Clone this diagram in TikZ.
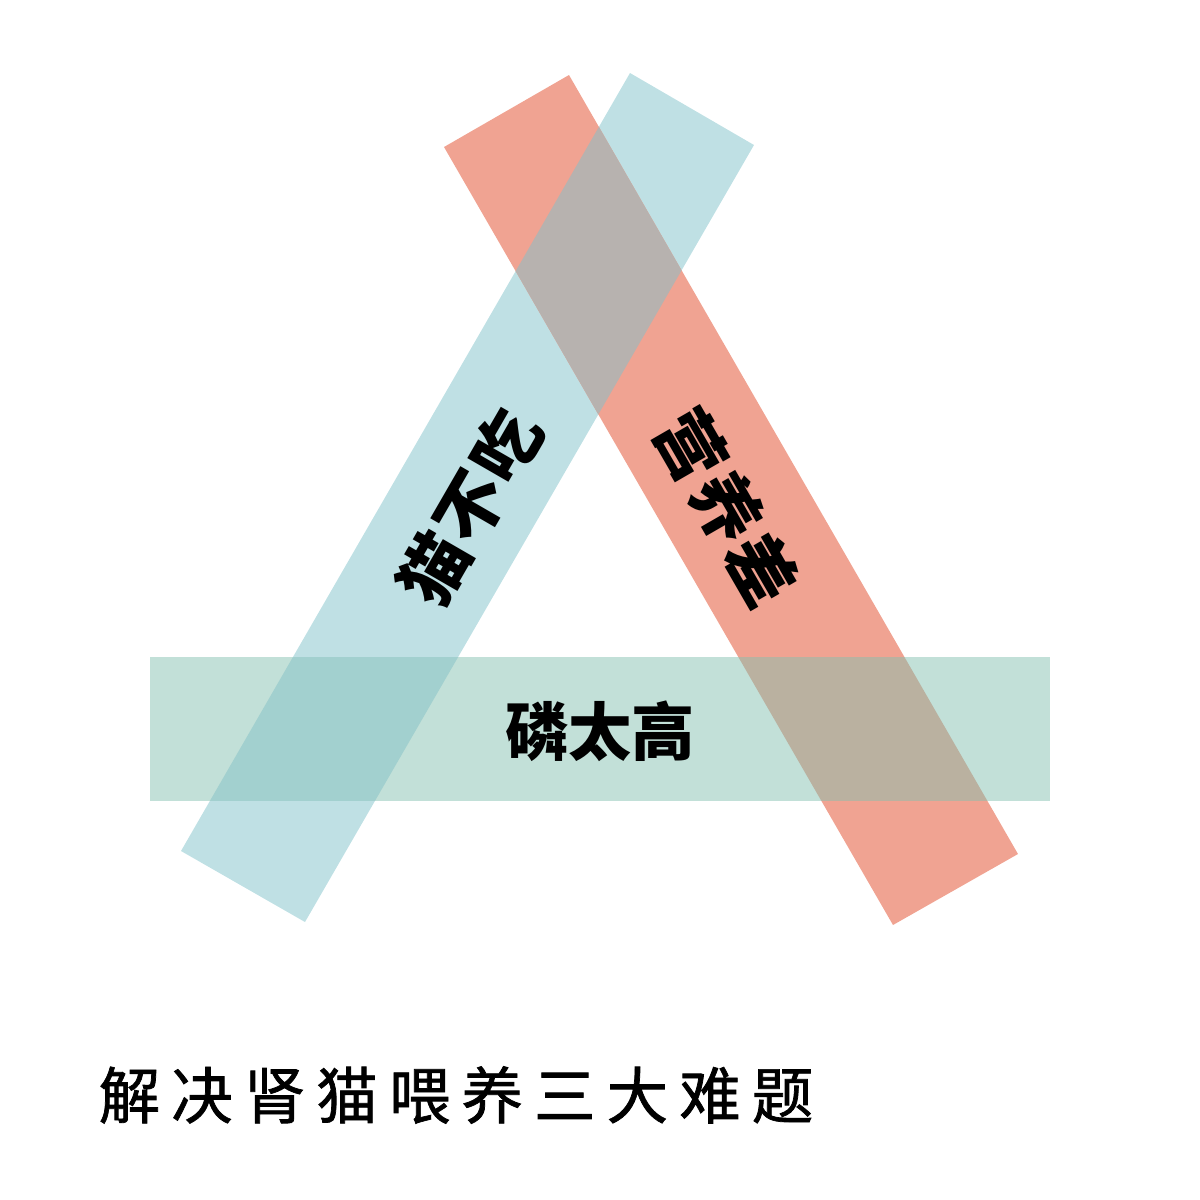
\documentclass[tikz,border=0pt]{standalone}
\usepackage{fontspec}
\newfontfamily\cjk{Noto Sans CJK SC}
\newfontfamily\cjktitle[LetterSpace=18,FakeBold=1.2]{Noto Sans CJK SC}
\newfontfamily\cjkwide[LetterSpace=4]{Noto Sans CJK SC}
\usepackage{tikz}
\usetikzlibrary{positioning}
\definecolor{barblue}{HTML}{BFE0E4}
\definecolor{barred}{HTML}{F0A392}
\definecolor{bargreen}{HTML}{C2E0D8}
\definecolor{bluegreen}{HTML}{A2D0CF}
\definecolor{redblue}{HTML}{B7B2AF}
\definecolor{redgreen}{HTML}{BAB1A0}
\tikzstyle{bluebar}=[fill=barblue]
\tikzstyle{redbar}=[fill=barred]
\tikzstyle{greenbar}=[fill=bargreen]
\tikzstyle{barlabel}=[inner sep=0pt,font=\cjk\bfseries\fontsize{18pt}{22pt}\selectfont]
\tikzstyle{slantlabel}=[inner sep=0pt,font=\cjkwide\bfseries\fontsize{19.5pt}{23pt}\selectfont]
\tikzstyle{caption}=[inner sep=0pt,anchor=west,font=\cjktitle\fontsize{17.5pt}{21pt}\selectfont]

\begin{document}
\begin{tikzpicture}
  \useasboundingbox (0,0) rectangle (12,-12);
  % corners of the three bars
  \coordinate (b1) at (6.30,-0.73);
  \coordinate (b2) at (7.54,-1.45);
  \coordinate (b3) at (3.05,-9.22);
  \coordinate (b4) at (1.81,-8.51);
  \coordinate (r1) at (5.69,-0.75);
  \coordinate (r2) at (10.18,-8.54);
  \coordinate (r3) at (8.93,-9.25);
  \coordinate (r4) at (4.44,-1.47);
  \coordinate (g1) at (1.50,-6.57);
  \coordinate (g2) at (10.50,-8.01);

  \fill[bluebar] (b1) -- (b2) -- (b3) -- (b4) -- cycle;
  \fill[redbar] (r1) -- (r2) -- (r3) -- (r4) -- cycle;
  \fill[greenbar] (g1) rectangle (g2);
  % overlaps
  \begin{scope}
    \clip (b1) -- (b2) -- (b3) -- (b4) -- cycle;
    \fill[bluegreen] (g1) rectangle (g2);
    \fill[redblue] (r1) -- (r2) -- (r3) -- (r4) -- cycle;
  \end{scope}
  \begin{scope}
    \clip (r1) -- (r2) -- (r3) -- (r4) -- cycle;
    \fill[redgreen] (g1) rectangle (g2);
  \end{scope}

  \node[slantlabel,rotate=60] (maobuchi) at (4.70,-5.07) {猫不吃};
  \node[slantlabel,rotate=-60] (yingyangcha) at (7.27,-5.07) {营养差};
  \node[barlabel] (lintaigao) at (6.00,-7.31) {磷太高};

  \node[caption] (title) at (0.98,-10.95) {解决肾猫喂养三大难题};
\end{tikzpicture}
\end{document}
